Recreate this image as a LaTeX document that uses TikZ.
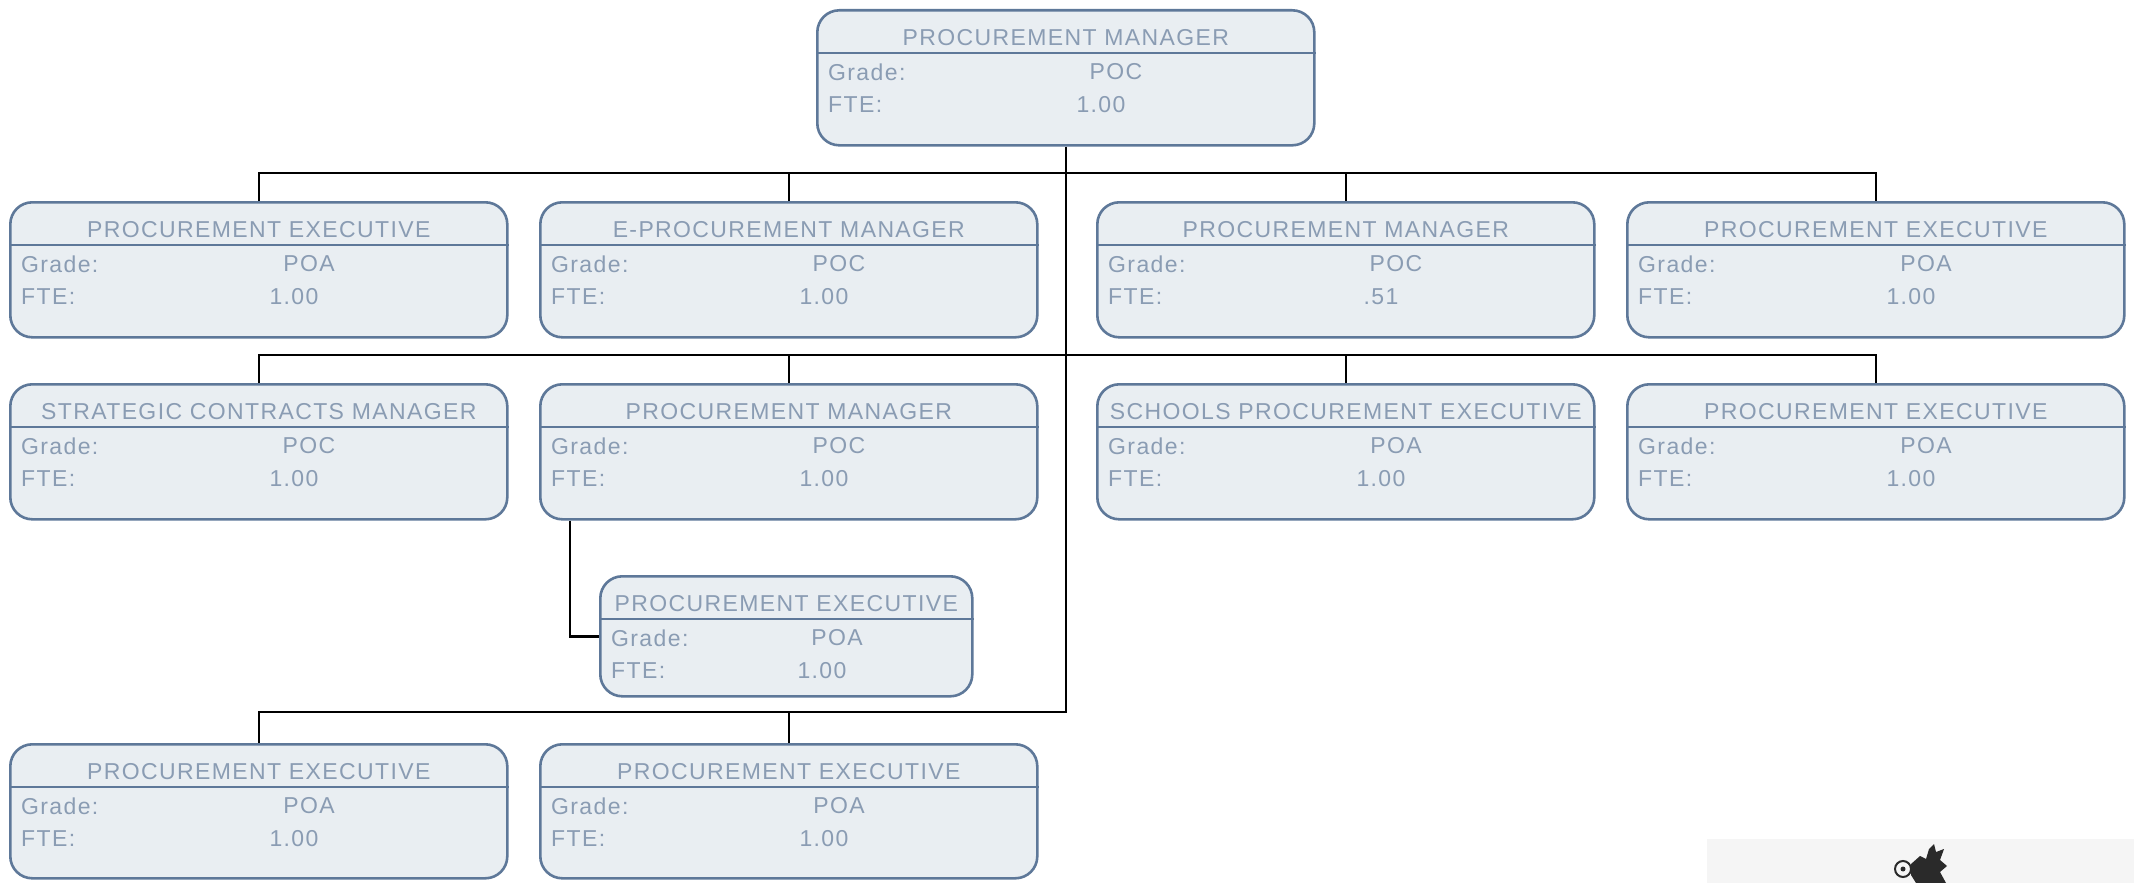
\documentclass[tikz,border=0pt]{standalone}
\usepackage{fontspec}
\setmainfont{Liberation Sans}
\newfontfamily\boxfont[LetterSpace=6]{Liberation Sans}
\definecolor{boxfill}{HTML}{E9EEF2}
\definecolor{boxborder}{HTML}{5E7899}
\definecolor{boxtext}{HTML}{8A9CB3}
\definecolor{logobg}{HTML}{F5F5F5}
\definecolor{logodark}{HTML}{2A2A2A}
\newcommand\orgbox[9]{%
 \node[box, minimum width=#4pt, minimum height=#5pt, anchor=north west] (#1) at (#2,#3) {};
 \draw[divider] ([yshift=-44pt]#1.north west) -- ([yshift=-44pt]#1.north east);
 \node[ttl] (#1-t) at ([yshift=-29pt]#1.north) {#6};
 \node[ttl, anchor=west] (#1-gl) at ([xshift=12pt,yshift=-63pt]#1.north west) {Grade:};
 \node[ttl, anchor=west] (#1-fl) at ([xshift=12pt,yshift=-96pt]#1.north west) {FTE:};
 \node[ttl] (#1-g) at ([xshift=#9pt,yshift=-63pt]#1.north west) {#7};
 \node[ttl] (#1-f) at ([xshift=#9pt-15pt,yshift=-96pt]#1.north west) {#8};
}
\begin{document}
\begin{tikzpicture}[x=1pt,y=-1pt,
  box/.style={draw=boxborder, line width=2.6pt, fill=boxfill, rounded corners=22pt, inner sep=0pt},
  divider/.style={draw=boxborder, line width=2.6pt},
  ttl/.style={text=boxtext, font=\boxfont\fontsize{23}{27}\selectfont, inner sep=0pt},
  conn/.style={draw=black, line width=2.4pt}]
\useasboundingbox (0,0) rectangle (2134,883);

\orgbox{top}{816}{9}{497}{135}{PROCUREMENT MANAGER}{POC}{1.00}{300}

\orgbox{r1a}{9}{201}{497}{135}{PROCUREMENT EXECUTIVE}{POA}{1.00}{300}
\orgbox{r1b}{539}{201}{497}{135}{E-PROCUREMENT MANAGER}{POC}{1.00}{300}
\orgbox{r1c}{1096}{201}{497}{135}{PROCUREMENT MANAGER}{POC}{.51}{300}
\orgbox{r1d}{1626}{201}{497}{135}{PROCUREMENT EXECUTIVE}{POA}{1.00}{300}

\orgbox{r2a}{9}{383}{497}{135}{STRATEGIC CONTRACTS MANAGER}{POC}{1.00}{300}
\orgbox{r2b}{539}{383}{497}{135}{PROCUREMENT MANAGER}{POC}{1.00}{300}
\orgbox{r2c}{1096}{383}{497}{135}{SCHOOLS PROCUREMENT EXECUTIVE}{POA}{1.00}{300}
\orgbox{r2d}{1626}{383}{497}{135}{PROCUREMENT EXECUTIVE}{POA}{1.00}{300}

\orgbox{sub}{599}{575}{372}{120}{PROCUREMENT EXECUTIVE}{POA}{1.00}{238}

\orgbox{r3a}{9}{743}{497}{134}{PROCUREMENT EXECUTIVE}{POA}{1.00}{300}
\orgbox{r3b}{539}{743}{497}{134}{PROCUREMENT EXECUTIVE}{POA}{1.00}{300}

\coordinate (bus1) at (0,173);
\coordinate (bus2) at (0,355);
\coordinate (bus3) at (0,712);
\coordinate (subx) at (570,0);

\draw[conn] (top.south) -- (top.south |- bus3) -- (r3a.north |- bus3) -- (r3a.north);
\draw[conn] (r3b.north) -- (r3b.north |- bus3);
\draw[conn] (r1a.north) -- (r1a.north |- bus1) -- (r1d.north |- bus1) -- (r1d.north);
\draw[conn] (r1b.north) -- (r1b.north |- bus1);
\draw[conn] (r1c.north) -- (r1c.north |- bus1);
\draw[conn] (r2a.north) -- (r2a.north |- bus2) -- (r2d.north |- bus2) -- (r2d.north);
\draw[conn] (r2b.north) -- (r2b.north |- bus2);
\draw[conn] (r2c.north) -- (r2c.north |- bus2);
\draw[conn] (subx |- r2b.south) -- (subx |- sub.west) -- (sub.west);

% logo fragment
\fill[logobg] (1707,839) rectangle (2134,883);
\draw[logodark, line width=2pt] (1903,869) circle (8);
\fill[logodark] (1903,869) circle (2.5);
\fill[logodark] (1911,864) -- (1920,856) -- (1926,859) -- (1929,849) -- (1934,844) -- (1936,852) -- (1944,849) -- (1940,860) -- (1947,866) -- (1940,872) -- (1946,883) -- (1916,883) -- (1911,875) -- cycle;
\end{tikzpicture}
\end{document}
